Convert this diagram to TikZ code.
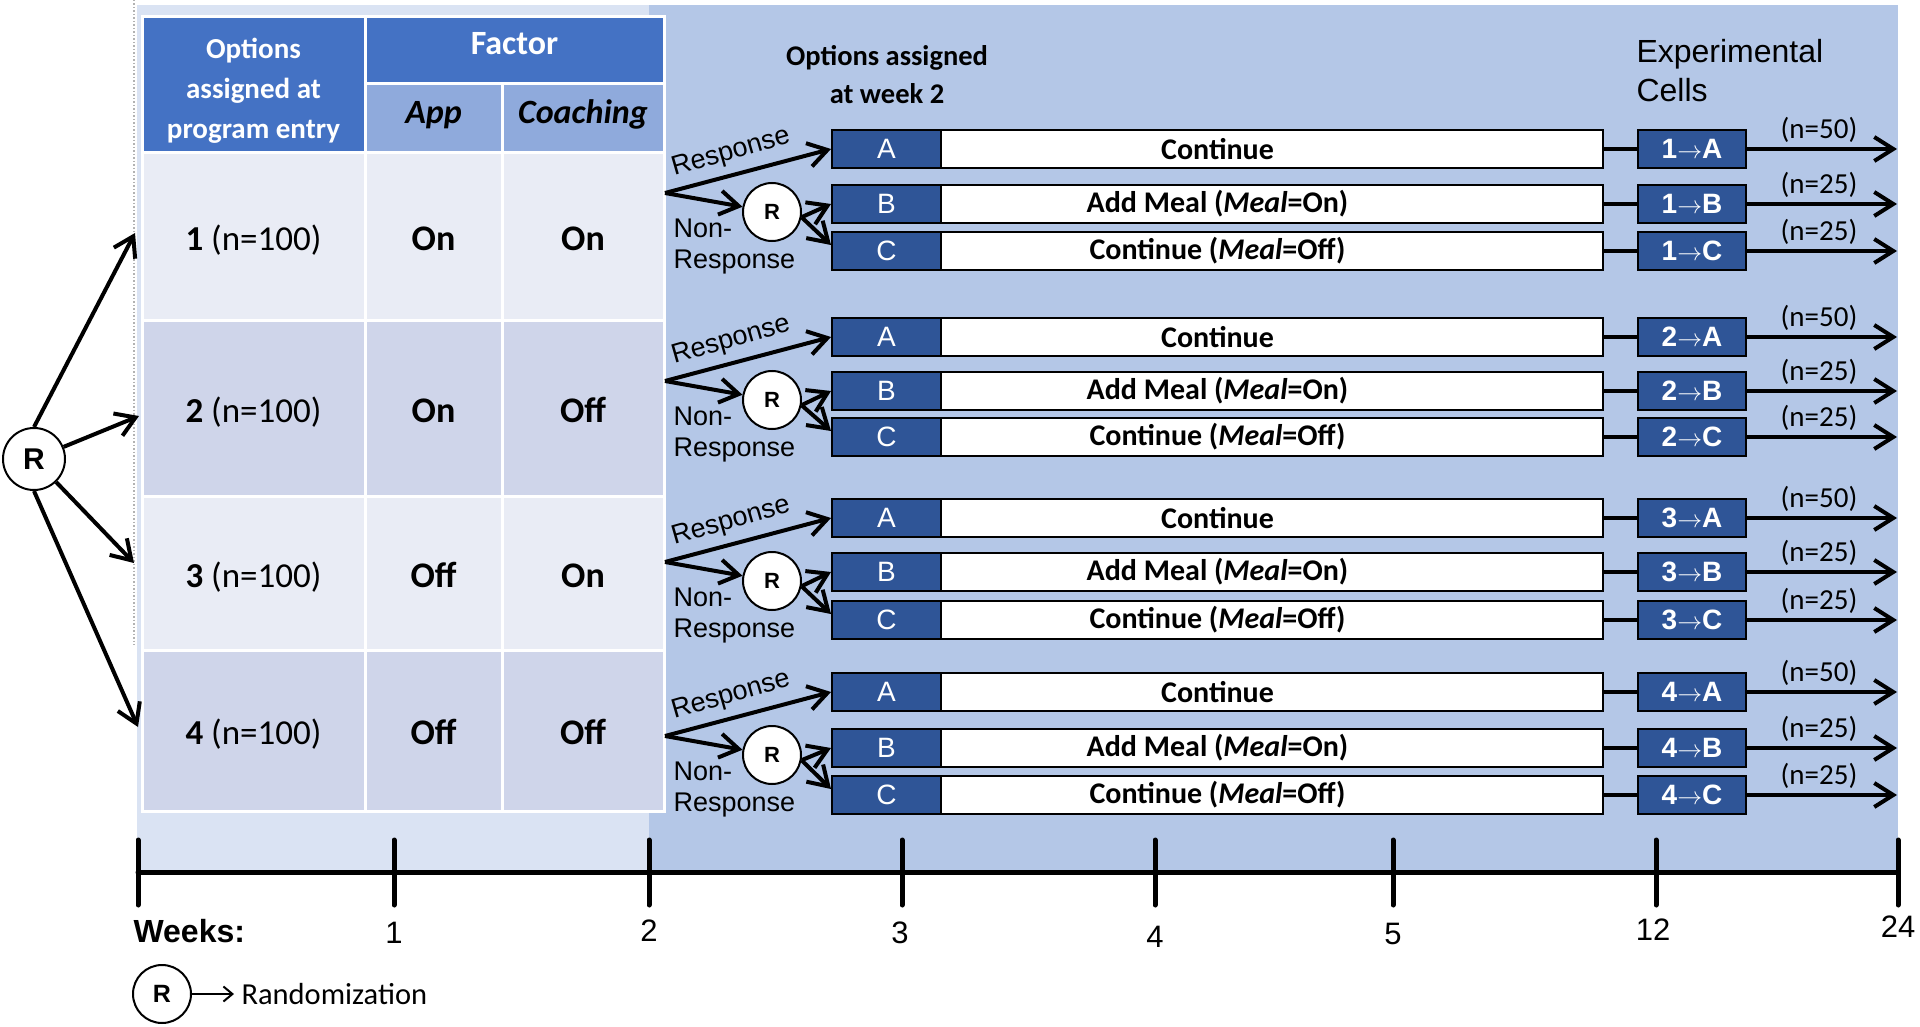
\documentclass[tikz,border=0pt]{standalone}
\usepackage{fontspec}
\setmainfont{Carlito}
\newfontfamily\arialf{Liberation Sans}
\usetikzlibrary{arrows.meta}
\definecolor{bgLight}{HTML}{DAE3F3}
\definecolor{bgDark}{HTML}{B4C7E7}
\definecolor{hdrBlue}{HTML}{4472C4}
\definecolor{subBlue}{HTML}{8FAADC}
\definecolor{rowA}{HTML}{E9ECF5}
\definecolor{rowB}{HTML}{CFD5EA}
\definecolor{boxBlue}{HTML}{2F5597}
\newcommand\fsz[2]{\fontsize{#1}{#2}\selectfont}
\newcommand\cellarrow{{\mdseries\fsz{28}{30}$\rightarrow$}}
\begin{document}
\begin{tikzpicture}[x=1pt,y=-1pt,
  arr/.style={line width=4pt,-{Straight Barb[length=19pt,width=24pt]}},
  plain/.style={line width=4pt},
  axisline/.style={line width=5pt,line cap=round},
  cellbase/.style={draw=white,line width=3pt,inner sep=0pt,align=center},
  hdr/.style={cellbase,fill=hdrBlue,text=white,font=\fsz{29}{40}\bfseries},
  sub/.style={cellbase,fill=subBlue,text=black,font=\fsz{34}{40}\bfseries\itshape,text height=22pt,text depth=12pt},
  rowa/.style={cellbase,fill=rowA,text height=31pt,text depth=3pt},
  rowb/.style={cellbase,fill=rowB,text height=31pt,text depth=3pt},
  numtxt/.style={font=\fsz{35}{42}},
  onoff/.style={font=\fsz{36}{42}\bfseries},
  bar/.style={draw=black,fill=white,line width=2pt,minimum width=771pt,minimum height=38pt,inner sep=0pt,font=\fsz{30}{36}\bfseries},
  tag/.style={draw=black,fill=boxBlue,line width=2pt,minimum width=109pt,minimum height=38pt,inner sep=0pt,text=white,font=\arialf\fsz{28}{32}},
  cellx/.style={draw=black,fill=boxBlue,line width=2pt,minimum width=108pt,minimum height=38pt,inner sep=0pt,text=white,font=\arialf\bfseries\fsz{28}{32}},
  rnd/.style={circle,draw=black,fill=white,line width=2pt,minimum size=58pt,inner sep=0pt,font=\arialf\bfseries\fsz{22}{26}},
  nlab/.style={above,pos=0.48,inner sep=1pt,yshift=3pt,font=\fsz{29}{34}},
  resp/.style={rotate=16,font=\arialf\fsz{27}{30}},
  nonresp/.style={anchor=west,align=left,font=\arialf\fsz{27}{31}},
  wk/.style={font=\arialf\fsz{31}{36}}
]
\useasboundingbox (0,0) rectangle (1920,1027);
\fill[white] (0,0) rectangle (1920,1027);
% backgrounds
\fill[bgLight] (137,5) rectangle (649,872);
\fill[bgDark] (649,5) rectangle (1898,872);
\draw[gray!60,dotted,line width=1.5pt] (134,0) -- (134,645);

% table
\node[hdr,minimum width=223pt,minimum height=136pt] (opt) at (253.5,85) {};
\node[text=white,font=\fsz{29}{40}\bfseries,align=center] (optlbl) at (253.5,91) {Options\\assigned at\\program entry};
\node[hdr,font=\fsz{34}{40}\bfseries,minimum width=299pt,minimum height=67pt,text height=20pt,text depth=11pt] (fac) at (514.5,50.5) {Factor};
\node[sub,minimum width=137pt,minimum height=69pt] (app) at (433.5,118.5) {App};
\node[sub,minimum width=162pt,minimum height=69pt] (coach) at (583,118.5) {Coaching};

\node[rowa,numtxt,minimum width=223pt,minimum height=167pt] (r1) at (253.5,236.5) {\textbf{1} (n=100)};
\node[rowa,onoff,minimum width=137pt,minimum height=167pt] (r1a) at (433.5,236.5) {On};
\node[rowa,onoff,minimum width=162pt,minimum height=167pt] (r1c) at (583,236.5) {On};

\node[rowb,numtxt,minimum width=223pt,minimum height=176pt] (r2) at (253.5,408) {\textbf{2} (n=100)};
\node[rowb,onoff,minimum width=137pt,minimum height=176pt] (r2a) at (433.5,408) {On};
\node[rowb,onoff,minimum width=162pt,minimum height=176pt] (r2c) at (583,408) {Off};

\node[rowa,numtxt,minimum width=223pt,minimum height=154pt] (r3) at (253.5,573) {\textbf{3} (n=100)};
\node[rowa,onoff,minimum width=137pt,minimum height=154pt] (r3a) at (433.5,573) {Off};
\node[rowa,onoff,minimum width=162pt,minimum height=154pt] (r3c) at (583,573) {On};

\node[rowb,numtxt,minimum width=223pt,minimum height=161pt] (r4) at (253.5,730.5) {\textbf{4} (n=100)};
\node[rowb,onoff,minimum width=137pt,minimum height=161pt] (r4a) at (433.5,730.5) {Off};
\node[rowb,onoff,minimum width=162pt,minimum height=161pt] (r4c) at (583,730.5) {Off};

% first randomization
\node[rnd,minimum size=62pt,font=\arialf\bfseries\fsz{30}{32}] (R0) at (34,459) {R};
\coordinate (t1) at (135,233);
\coordinate (t2) at (139,416);
\coordinate (t3) at (134,563);
\coordinate (t4) at (138,727);
\draw[arr] (R0.north) -- (t1);
\draw[arr] (R0) -- (t2);
\draw[arr] (R0) -- (t3);
\draw[arr] (R0.south) -- (t4);

% headings right
\node[font=\fsz{28.5}{38}\bfseries,align=center] (optw2) at (887,75) {Options assigned\\at week 2};
\node[font=\arialf\fsz{32}{39},align=left,anchor=west] (expc) at (1633,71) {Experimental\\Cells};

% groups
\foreach \g/\ya/\yb/\yc in {1/149/204/251, 2/337/391/437, 3/518/572/620, 4/692/748/795}{
  \node[bar] (WA\g) at (1217.5,\ya) {Continue};
  \node[bar] (WB\g) at (1217.5,\yb) {Add Meal (\textit{Meal}=On)};
  \node[bar] (WC\g) at (1217.5,\yc) {Continue (\textit{Meal}=Off)};
  \node[tag] (A\g) at (886.5,\ya) {A};
  \node[tag] (B\g) at (886.5,\yb) {B};
  \node[tag] (C\g) at (886.5,\yc) {C};
  \node[cellx] (XA\g) at (1692,\ya) {\g\cellarrow A};
  \node[cellx] (XB\g) at (1692,\yb) {\g\cellarrow B};
  \node[cellx] (XC\g) at (1692,\yc) {\g\cellarrow C};
  \draw[plain] (WA\g.east) -- (XA\g.west);
  \draw[plain] (WB\g.east) -- (XB\g.west);
  \draw[plain] (WC\g.east) -- (XC\g.west);
  \coordinate (EA\g) at (1897,\ya);
  \coordinate (EB\g) at (1897,\yb);
  \coordinate (EC\g) at (1897,\yc);
  \draw[arr] (XA\g.east) -- node[nlab] {(n=50)} (EA\g);
  \draw[arr] (XB\g.east) -- node[nlab] {(n=25)} (EB\g);
  \draw[arr] (XC\g.east) -- node[nlab] {(n=25)} (EC\g);
  \coordinate (BR\g) at (665,{\ya+44});
  \node[rnd] (R\g) at (772,{\ya+63}) {R};
  \draw[arr] (BR\g) -- (A\g.west);
  \draw[arr] (BR\g) -- (R\g);
  \draw[arr] (R\g.-10) -- (B\g.west);
  \draw[arr] (R\g.-10) -- ([yshift=6pt]C\g.west);
  \node[resp] at (731,{\ya+4}) {Response};
  \node[nonresp] at (670,{\ya+98}) {Non-\\Response};
}

% time axis
\draw[axisline] (138,872) -- (1898,872);
\foreach \x in {138,394,649,902,1155,1393,1656,1898}{
  \draw[axisline] (\x,840) -- (\x,905);
}
\node[font=\arialf\bfseries\fsz{32}{36},anchor=west] (weeks) at (130,931) {Weeks:};
\node[wk] (w1) at (394,933) {1};
\node[wk] (w2) at (649,931) {2};
\node[wk] (w3) at (900,933) {3};
\node[wk] (w4) at (1155,937) {4};
\node[wk] (w5) at (1393,934) {5};
\node[wk] (w12) at (1653,930) {12};
\node[wk] (w24) at (1898,927) {24};

% legend
\node[rnd,font=\arialf\bfseries\fsz{25}{28}] (Rleg) at (162,994) {R};
\coordinate (legtip) at (234,994);
\draw[line width=2pt,-{Straight Barb[length=9pt,width=15pt]}] (Rleg) -- (legtip);
\node[anchor=west,font=\fsz{30.5}{36}] (randlbl) at (238,994) {Randomization};
\end{tikzpicture}
\end{document}
